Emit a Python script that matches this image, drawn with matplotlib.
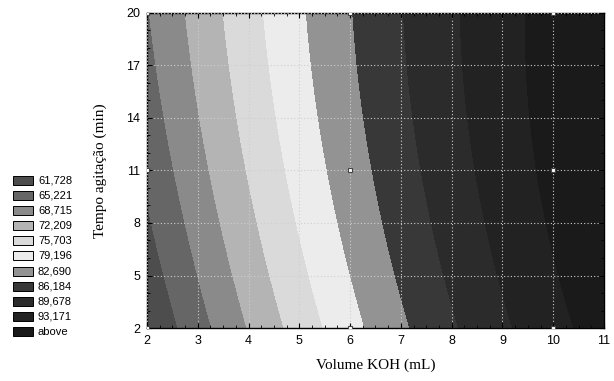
import numpy as np
import matplotlib
matplotlib.use("Agg")
import matplotlib.pyplot as plt
from matplotlib.patches import Rectangle
from matplotlib.ticker import MultipleLocator

# design points (3^2 factorial) and responses
volume_levels = [2, 6, 10]
tempo_levels = [2, 11, 20]
response = [[58.38, 77.98, 92.06],   # tempo = 2
            [62.45, 81.01, 94.03],   # tempo = 11
            [64.99, 82.50, 94.47]]   # tempo = 20

levels = [61.728, 65.221, 68.715, 72.209, 75.703, 79.196, 82.690, 86.184, 89.678, 93.171]
legend_labels = ['61,728', '65,221', '68,715', '72,209', '75,703', '79,196',
                 '82,690', '86,184', '89,678', '93,171', 'above']
colors = ['#4d4d4d', '#666666', '#8a8a8a', '#b4b4b4', '#dadada', '#ececec',
          '#939393', '#383838', '#2b2b2b', '#222222', '#1a1a1a']

# quadratic response surface fitted to the design points
dx, dy = np.meshgrid(volume_levels, tempo_levels)
dx, dy, dz = dx.ravel(), dy.ravel(), np.array(response).ravel()


def terms(x, y):
    return np.stack([np.ones_like(x), x, y, x ** 2, y ** 2, x * y], axis=-1)


coef, *_ = np.linalg.lstsq(terms(dx.astype(float), dy.astype(float)), dz, rcond=None)

gx, gy = np.meshgrid(np.linspace(2, 11, 400), np.linspace(2, 20, 400))
gz = terms(gx, gy) @ coef

fig = plt.figure(figsize=(6.14, 3.81), dpi=100)
ax = fig.add_axes([0.2394, 0.1391, 0.7443, 0.8268])

ax.contourf(gx, gy, gz, levels=[gz.min() - 1] + levels + [gz.max() + 1], colors=colors)

ax.set_xlim(2, 11)
ax.set_ylim(2, 20)
ax.set_xticks(range(2, 12))
ax.set_yticks(range(2, 21, 3))
ax.xaxis.set_minor_locator(MultipleLocator(0.25))
ax.yaxis.set_minor_locator(MultipleLocator(1))
ax.tick_params(which='both', direction='in', top=True, right=True, color='black')
ax.tick_params(which='major', length=3.5, width=0.8, labelsize=9, pad=5)
ax.tick_params(which='minor', length=2, width=0.6)
for lab in ax.get_xticklabels() + ax.get_yticklabels():
    lab.set_family('Liberation Sans')

ax.grid(True, which='major', color='#cfcfcf', linestyle=(0, (1, 2)), linewidth=0.8)
ax.set_axisbelow(False)

ax.plot(dx, dy, 's', ms=2.6, mfc='white', mec='#444444', mew=0.8, zorder=5)

for s in ax.spines.values():
    s.set_linewidth(1.0)

ax.set_xlabel('Volume KOH (mL)', family='Liberation Serif', fontsize=11, labelpad=8)
ax.set_ylabel('Tempo agitação (min)', family='Liberation Serif', fontsize=11, labelpad=14)

# legend at left
W, H = 614.0, 381.0
for i, (lab, c) in enumerate(zip(legend_labels, colors)):
    yc = 180 + i * 15.17
    fig.add_artist(Rectangle((13 / W, 1 - (yc + 4.5) / H), 20 / W, 9 / H,
                             facecolor=c, edgecolor='black', linewidth=0.7,
                             transform=fig.transFigure))
    fig.text(38 / W, 1 - yc / H, lab, family='Liberation Sans', fontsize=8,
             va='center', ha='left')

fig.savefig("out.png", dpi=100)
